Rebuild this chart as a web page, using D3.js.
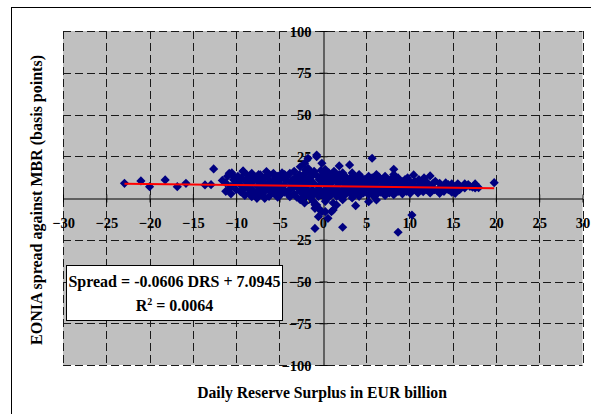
<!DOCTYPE html>
<html>
<head>
<meta charset="utf-8">
<script src="https://cdn.jsdelivr.net/npm/d3@7"></script>
<style>
  html, body { margin: 0; padding: 0; background: #fff; }
  svg { display: block; }
  text { font-family: "Liberation Serif", "Times New Roman", serif; font-weight: bold; fill: #000; }
</style>
</head>
<body>
<svg id="chart" width="591" height="414"></svg>
<script>
// Axis ticks
const xTicks = [-30, -25, -20, -15, -10, -5, 0, 5, 10, 15, 20, 25, 30];
const yTicks = [-100, -75, -50, -25, 0, 25, 50, 75, 100];

// Regression reported for the sample: Spread = slope * DRS + intercept
const slope = -0.0606;
const intercept = 7.0945;
const rSquared = 0.0064;

// Daily observations: [reserve surplus (EUR bn), EONIA spread (bp)]
const observations = [
  [-22.9, 8.8], [-21.0, 10.2], [-20.0, 6.8], [-18.2, 10.8], [-16.8, 6.8], [-15.8, 8.8],
  [-13.6, 7.8], [-12.9, 8.0], [-12.6, 17.4], [-11.6, 10.5],
  [-11.2, 4], [-11.2, 9], [-11.0, 13], [-10.8, 14.8], [-10.5, 15],
  [-10.6, 2.5], [-10.6, 7], [-10.3, 11],
  [-10.0, 5], [-10.0, 9], [-9.8, 13],
  [-9.5, 3.8], [-9.5, 8], [-9.4, 12], [-9.2, 16.2], [-9.2, 15.8],
  [-9.0, 1.5], [-9.0, 6], [-8.9, 10], [-8.8, 14],
  [-8.5, 3], [-8.5, 8], [-8.4, 12], [-8.2, 14.8],
  [-8.2, 0.8], [-8.1, 5], [-8.0, 10],
  [-7.6, -0.2], [-7.6, 3], [-7.5, 7], [-7.6, 11], [-7.4, 14],
  [-7.2, 2], [-7.1, 6], [-7.2, 9], [-7.2, 13.8],
  [-6.7, -0.2], [-6.7, 4], [-6.6, 8], [-6.7, 12], [-6.5, 15.8],
  [-6.2, 1], [-6.2, 6], [-6.1, 10], [-6.2, 14],
  [-5.7, 3], [-5.7, 7], [-5.6, 11], [-5.7, 14.8],
  [-5.2, 0.5], [-5.2, 5], [-5.1, 9], [-5.2, 13],
  [-4.9, 1.8], [-4.8, 7], [-4.9, 12], [-4.7, 15],
  [-4.4, 3.5], [-4.4, 8], [-4.3, 11], [-4.4, 14],
  [-3.8, 0.8], [-3.8, 5], [-3.7, 9.5], [-3.8, 14.8],
  [-3.3, 2.5], [-3.3, 7], [-3.2, 12], [-3.3, 16],
  [-2.6, -1], [-2.6, 4], [-2.5, 8], [-2.6, 11], [-2.7, 14], [-2.6, 18.7],
  [-2.1, -3], [-2.1, 1], [-2.0, 6], [-2.1, 10], [-2.0, 15], [-2.1, 20.8], [-2.0, 16.8],
  [-1.7, 3], [-1.7, 8], [-1.6, 12], [-1.7, 17.8], [-1.7, 23.8],
  [-1.1, -2], [-1.1, 2], [-1.2, 5], [-1.1, 9], [-1.1, 13.8], [-1.0, 16],
  [-0.9, -6.2], [-0.9, -18.2], [-0.9, -4], [-0.7, 24.7], [-0.7, 25.7], [-0.7, -4.2], [-0.7, -5.2],
  [-0.5, -6.2], [-0.5, -11.2], [-0.5, 1], [-0.5, 7], [-0.4, 11],
  [-0.1, -8.2], [-0.1, 20.8], [-0.1, 3], [-0.1, 10], [0.0, 14],
  [0.3, -8.2], [0.3, -2], [0.3, 5], [0.3, 8], [0.4, 12], [0.3, 17],
  [0.6, -12.2], [0.6, 0], [0.6, 6], [0.7, 15],
  [1.0, -8.2], [1.0, 2], [1.0, 9], [1.1, 13],
  [1.2, -7.2], [1.2, -3], [1.3, 4], [1.2, 11], [1.3, 16],
  [1.6, -4.2], [1.6, 1], [1.7, 7], [1.6, 10],
  [1.9, 19.2], [1.9, 3], [2.0, 12], [1.9, 14],
  [2.3, -17.5], [2.3, -1], [2.3, 5], [2.4, 9], [2.3, 15],
  [2.6, 2], [2.6, 7], [2.7, 11], [2.6, 13],
  [3.1, 19.8], [3.1, 4], [3.1, 8], [3.2, 12],
  [3.4, 0], [3.4, 6], [3.5, 10], [3.4, 15],
  [3.8, -4.6], [3.8, 3], [3.9, 8], [3.8, 12],
  [4.2, 1], [4.2, 5], [4.3, 10], [4.2, 14],
  [4.7, 3], [4.7, 7], [4.8, 11],
  [5.3, -2.2], [5.3, 2], [5.3, 6], [5.4, 9], [5.3, 13],
  [5.7, 23.8], [5.7, 4], [5.8, 8], [5.7, 12],
  [6.2, -1.2], [6.2, 2], [6.2, 6], [6.3, 10], [6.2, 14],
  [6.7, 3.5], [6.7, 7], [6.8, 11],
  [7.2, 1.5], [7.2, 5], [7.3, 9], [7.2, 13],
  [7.7, 3], [7.7, 7], [7.8, 11],
  [8.2, 17.2], [8.2, 2], [8.2, 6], [8.3, 9], [8.2, 14],
  [8.7, -20.5], [8.7, 4], [8.8, 8], [8.7, 12],
  [9.2, 2.5], [9.2, 6], [9.3, 10],
  [9.7, 4], [9.7, 8], [9.8, 12],
  [10.1, 2.8], [10.1, 6], [10.2, 9],
  [10.5, 13.8], [10.3, -10.2], [10.5, 5], [10.6, 10],
  [11.0, 3], [11.0, 7], [11.1, 11],
  [11.6, 3.8], [11.6, 8], [11.7, 12],
  [12.0, 5], [12.1, 9],
  [12.4, 13.2], [12.4, 3], [12.5, 7],
  [12.9, 5], [13.0, 10],
  [13.5, 2.8], [13.5, 6], [13.5, 8.8],
  [14.0, 4], [14.0, 7],
  [14.5, 5], [14.5, 8],
  [14.9, 8.4], [14.9, 3.5],
  [15.3, 2.8], [15.3, 6],
  [15.8, 7], [15.8, 5],
  [16.4, 8.4], [16.4, 6],
  [17.0, 7],
  [17.6, 8.4], [17.6, 6],
  [18.0, 6.2],
  [19.8, 9.2],
  // further days inside the dense band
  [-10.8, 5.5], [-10.2, 12.5], [-9.7, 10.5], [-9.3, 4.5], [-8.7, 6.5], [-8.6, 11],
  [-7.9, 2], [-7.9, 12.5], [-7.3, 4.5], [-7.0, 10.5], [-6.9, 1.5], [-6.4, 13],
  [-6.0, 3.5], [-5.9, 8.5], [-5.5, 12.5], [-5.4, 2], [-5.0, 10.5], [-4.6, 5.5],
  [-4.2, 12.5], [-4.0, 2.5], [-3.6, 6.5], [-3.5, 11], [-3.0, 0.5], [-3.0, 9],
  [-2.8, 5.5], [-2.3, 12.5], [-2.3, 2.5], [-1.9, 5], [-1.4, 10.5], [-1.4, 0],
  [-1.3, 15], [-0.8, 3.5], [-0.6, 13], [-0.3, 5], [-0.2, 16.5], [0.1, 1],
  [0.2, 10], [0.5, 3], [0.8, 11], [0.9, 4.5], [1.4, 14], [1.5, 6],
  [1.8, 9], [2.1, 0.5], [2.1, 3], [2.5, 12], [2.9, 6], [2.9, 10],
  [3.3, 2], [3.6, 13], [3.7, 5.5], [4.0, 9], [4.4, 3], [4.5, 12],
  [4.9, 5], [5.0, 9], [5.5, 11], [5.9, 1], [6.0, 7.5], [6.5, 5],
  [6.5, 12.5], [7.0, 3], [7.0, 8], [7.5, 10], [7.5, 5], [8.0, 4],
  [8.0, 11.5], [8.5, 10], [8.5, 6.5], [9.0, 4], [9.0, 8], [9.5, 11],
  [9.5, 6], [10.0, 4.5], [10.3, 8], [10.8, 5], [11.3, 9.5], [11.4, 6],
  [11.8, 10], [12.2, 6], [12.7, 8.5], [13.2, 4.5], [13.8, 5.5], [14.2, 9],
  [14.7, 6.5], [15.1, 5], [15.6, 8.5], [16.0, 6.5], [16.8, 8], [17.3, 6.5]
];

const svg = d3.select("#chart");

// Outer chart frame
svg.append("rect")
  .attr("x", 11.5).attr("y", 7.5)
  .attr("width", 600).attr("height", 420)
  .attr("fill", "#fff").attr("stroke", "#000").attr("stroke-width", 1);

const plot = { left: 63, right: 582.5, top: 31, bottom: 365 };

const x = d3.scaleLinear().domain([-30, 30]).range([plot.left, plot.right]);
const y = d3.scaleLinear().domain([-100, 100]).range([plot.bottom, plot.top]);

// Plot area
svg.append("rect")
  .attr("x", plot.left).attr("y", plot.top)
  .attr("width", plot.right - plot.left).attr("height", plot.bottom - plot.top)
  .attr("fill", "#c0c0c0");

// Dashed gridlines
const grid = svg.append("g")
  .attr("stroke", "#1a1a1a").attr("stroke-width", 1).attr("stroke-dasharray", "8,4");
grid.selectAll("line.h").data(yTicks.filter(v => v !== 0)).join("line")
  .attr("class", "h")
  .attr("x1", plot.left).attr("x2", plot.right)
  .attr("y1", d => Math.round(y(d)) + 0.5).attr("y2", d => Math.round(y(d)) + 0.5);
grid.selectAll("line.v").data(xTicks.filter(v => v !== 0)).join("line")
  .attr("class", "v")
  .attr("y1", plot.top).attr("y2", plot.bottom)
  .attr("x1", d => Math.round(x(d)) + 0.5).attr("x2", d => Math.round(x(d)) + 0.5);

// Axes through the origin
const x0 = Math.round(x(0)) + 0.5;
const y0 = Math.round(y(0)) + 0.5;

const xAxis = d3.axisBottom(x).tickValues(xTicks).tickSizeInner(0).tickSizeOuter(0).tickFormat(d3.format("d"));
const gx = svg.append("g").attr("transform", `translate(0,${y0})`).call(xAxis);
gx.select(".domain").attr("stroke", "#000").attr("stroke-width", 1);
gx.selectAll(".tick text")
  .attr("y", 29).attr("dy", null)
  .style("font-size", "14.5px").style("font-family", "Liberation Serif").style("font-weight", "bold");
gx.selectAll(".tick").append("line")
  .attr("y1", -4).attr("y2", 4).attr("stroke", "#000");

const yAxis = d3.axisLeft(y).tickValues(yTicks).tickSizeInner(0).tickSizeOuter(0).tickFormat(d3.format("d"));
const gy = svg.append("g").attr("transform", `translate(${x0},0)`).call(yAxis);
gy.select(".domain").attr("stroke", "#000").attr("stroke-width", 1);
gy.selectAll(".tick text")
  .attr("x", -12).attr("dy", "0.35em")
  .style("font-size", "14.5px").style("font-family", "Liberation Serif").style("font-weight", "bold");
gy.selectAll(".tick").append("line")
  .attr("x1", -4).attr("x2", 4).attr("stroke", "#000");

// Scatter markers (diamonds)
const r = 4.6;
const diamond = `M0,${-r}L${r},0L0,${r}L${-r},0Z`;
svg.append("g").selectAll("path").data(observations).join("path")
  .attr("d", diamond)
  .attr("transform", d => `translate(${x(d[0])},${y(d[1])})`)
  .attr("fill", "#000080");

// Linear trend line over the observed surplus range
const [xmin, xmax] = d3.extent(observations, d => d[0]);
svg.append("line")
  .attr("x1", x(xmin)).attr("y1", y(slope * xmin + intercept))
  .attr("x2", x(xmax)).attr("y2", y(slope * xmax + intercept))
  .attr("stroke", "#ff0000").attr("stroke-width", 2);

// Regression equation box
const box = svg.append("g");
box.append("rect")
  .attr("x", 66.5).attr("y", 265.5).attr("width", 216).attr("height", 55)
  .attr("fill", "#fff").attr("stroke", "#000").attr("stroke-width", 1);
box.append("text")
  .attr("x", 174.5).attr("y", 287).attr("text-anchor", "middle")
  .style("font-size", "16px")
  .text(`Spread = ${slope.toFixed(4)} DRS + ${intercept.toFixed(4)}`);
const r2 = box.append("text")
  .attr("x", 174.5).attr("y", 311).attr("text-anchor", "middle")
  .style("font-size", "16px");
r2.append("tspan").text("R");
r2.append("tspan").attr("dy", -6).style("font-size", "10px").text("2");
r2.append("tspan").attr("dy", 6).text(` = ${rSquared.toFixed(4)}`);

// Axis titles
svg.append("text")
  .attr("x", 322).attr("y", 398).attr("text-anchor", "middle")
  .style("font-size", "15.7px")
  .text("Daily Reserve Surplus in EUR billion");
svg.append("text")
  .attr("transform", "translate(41.5,200) rotate(-90)")
  .attr("text-anchor", "middle")
  .style("font-size", "16px")
  .text("EONIA spread against MBR (basis points)");
</script>
</body>
</html>
